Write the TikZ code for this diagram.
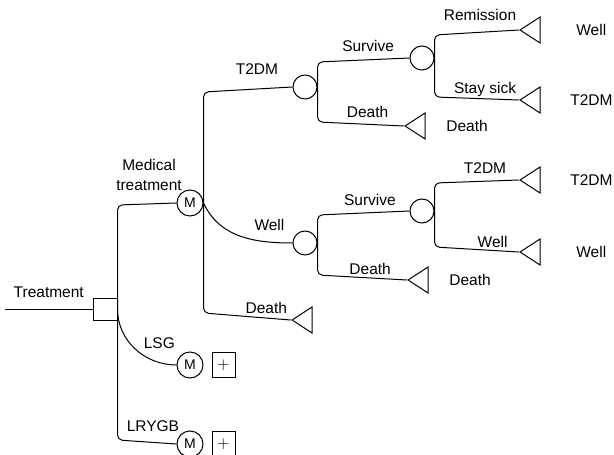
\documentclass[tikz,border=0pt]{standalone}
\usepackage{fontspec}
\setmainfont{Liberation Sans}
\usetikzlibrary{shapes.geometric, positioning, calc}

\begin{document}
\begin{tikzpicture}[x=1pt, y=-1pt, line width=1pt, font=\fontsize{15.5pt}{19.5pt}\selectfont,
		decision/.style={draw, rectangle, minimum width=24pt, minimum height=22pt, inner sep=0pt},
		markov/.style={draw, circle, minimum size=26pt, inner sep=0pt, font=\fontsize{14pt}{16pt}\selectfont},
		chance/.style={draw, circle, minimum size=24pt, inner sep=0pt},
		terminal/.style={draw, isosceles triangle, isosceles triangle stretches, shape border rotate=180, minimum width=26pt, minimum height=20pt, inner sep=0pt},
		plusbox/.style={draw, rectangle, minimum width=23pt, minimum height=25pt, inner sep=0pt, line width=0.8pt, font=\fontsize{18pt}{18pt}\selectfont},
		branch/.style={draw, rounded corners=5pt},
		lbl/.style={inner sep=2pt}]
		\useasboundingbox (0, 0) rectangle (614, 455);
		\coordinate (start) at (5, 309);
		\node[decision] (treatment) at (105, 309) {};
		\node[markov] (medical) at (190, 203) {M};
		\node[markov] (lsg) at (190, 365) {M};
		\node[markov] (lrygb) at (190, 444) {M};
		\node[plusbox, right=8pt of lsg] (lsg-plus) {$+$};
		\node[plusbox, right=8pt of lrygb] (lrygb-plus) {$+$};
		\node[chance] (t2dm) at (305, 87) {};
		\node[chance] (well) at (305, 243) {};
		\node[terminal] (med-death) at (305, 320) {};
		\node[chance] (t2dm-survive) at (422, 58) {};
		\node[terminal] (t2dm-death) at (418, 126) {};
		\node[chance] (well-survive) at (422, 211) {};
		\node[terminal] (well-death) at (421, 280) {};
		\node[terminal] (remission) at (533, 30) {};
		\node[terminal] (stay-sick) at (533, 100) {};
		\node[terminal] (well-t2dm) at (533, 180) {};
		\node[terminal] (well-well) at (533, 252) {};
		% outcomes
		\node[right=32pt of remission] (remission-out) {Well};
		\node[right=26pt of stay-sick] (stay-sick-out) {T2DM};
		\node[right=26pt of well-t2dm] (well-t2dm-out) {T2DM};
		\node[right=32pt of well-well] (well-well-out) {Well};
		\node[right=17pt of t2dm-death] (t2dm-death-out) {Death};
		\node[right=17pt of well-death] (well-death-out) {Death};
		% decision
		\path [draw] (start) -- node[lbl, above=9pt] {Treatment} (treatment.west);
		\path [branch] (treatment.east) -- ($(treatment.east |- medical.west) + (0, 2)$) -- node[lbl, above=11pt, xshift=2pt, align=center] {Medical\\treatment} (medical.west);
		\path [draw] (treatment.east) to[out=-90, in=180] node[lbl, pos=0.72, above=9pt, xshift=8pt] {LSG} (lsg.west);
		\path [branch] (treatment.east) -- ($(treatment.east |- lrygb.west) + (0, -4)$) -- node[lbl, pos=0.6, above=8pt] {LRYGB} (lrygb.west);
		% medical treatment
		\path [branch] (medical.east) -- ($(medical.east |- t2dm.west) + (0, 5)$) -- node[lbl, pos=0.6, above=12pt] {T2DM} (t2dm.west);
		\path [draw] (medical.east) to[out=-65, in=180] node[lbl, pos=0.68, above=7pt, xshift=12pt] {Well} (well.west);
		\path [branch] (medical.east) -- ($(medical.east |- med-death.apex) + (0, -7)$) -- node[lbl, pos=0.72, above=2pt] {Death} (med-death.apex);
		% T2DM
		\path [branch] (t2dm.east) -- ($(t2dm.east |- t2dm-survive.west) + (0, 4)$) -- node[lbl, pos=0.55, above=6pt] {Survive} (t2dm-survive.west);
		\path [branch] (t2dm.east) -- ($(t2dm.east |- t2dm-death.apex) + (0, -4)$) -- node[lbl, pos=0.58, above=4pt] {Death} (t2dm-death.apex);
		\path [branch] (t2dm-survive.east) -- ($(t2dm-survive.east |- remission.apex) + (0, 5)$) -- node[lbl, pos=0.54, above=9pt] {Remission} (remission.apex);
		\path [branch] (t2dm-survive.east) -- ($(t2dm-survive.east |- stay-sick.apex) + (0, -3)$) -- node[lbl, pos=0.6, above=0pt] {Stay sick} (stay-sick.apex);
		% well
		\path [branch] (well.east) -- ($(well.east |- well-survive.west) + (0, 4)$) -- node[lbl, pos=0.57, above=5pt] {Survive} (well-survive.west);
		\path [branch] (well.east) -- ($(well.east |- well-death.apex) + (0, -5)$) -- node[lbl, pos=0.59, above=1pt] {Death} (well-death.apex);
		\path [branch] (well-survive.east) -- ($(well-survive.east |- well-t2dm.apex) + (0, 3)$) -- node[lbl, pos=0.6, above=5pt] {T2DM} (well-t2dm.apex);
		\path [branch] (well-survive.east) -- ($(well-survive.east |- well-well.apex) + (0, -5)$) -- node[lbl, pos=0.69, above=0.5pt] {Well} (well-well.apex);
	\end{tikzpicture}
\end{document}
